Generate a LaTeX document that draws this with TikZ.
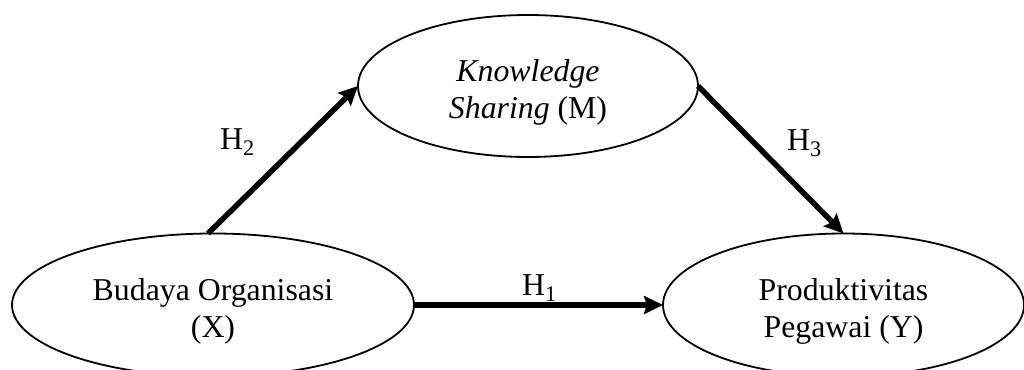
\documentclass[tikz,border=0pt]{standalone}
\usepackage{fontspec}
\setmainfont{Liberation Serif}
\usetikzlibrary{shapes.geometric,arrows.meta}

% invisible strut that lowers two-line node text slightly
\newcommand{\lowerstrut}{\rule{0pt}{35pt}}

\tikzset{
  construct/.style={ellipse, draw, line width=1.8pt, inner sep=0pt, outer sep=0pt,
    align=center, font=\fontsize{31.8}{37.5}\selectfont},
  path arrow/.style={line width=5.5pt, -{Stealth[length=19pt,width=18pt,inset=3pt]}},
  hyp/.style={anchor=base west, inner sep=0pt, font=\fontsize{31.8}{37.5}\selectfont}
}

\begin{document}
\begin{tikzpicture}[x=1pt, y=-1pt]
  \useasboundingbox (0,0) rectangle (1024,369);
  \clip (0,0) rectangle (1024,369);

  % latent constructs
  \node[construct, minimum width=340pt, minimum height=142pt] (M) at (528,86)
    {\lowerstrut\textit{Knowledge}\\\textit{Sharing} (M)};
  \node[construct, minimum width=402pt, minimum height=143pt] (X) at (213,305)
    {\lowerstrut Budaya Organisasi\\(X)};
  \node[construct, minimum width=361pt, minimum height=143pt] (Y) at (843.5,305)
    {\lowerstrut Produktivitas\\Pegawai (Y)};

  % hypothesised paths
  \draw[path arrow] ([xshift=-5pt]X.north) -- (M.west);
  \draw[path arrow] (M.east) -- (Y.north);
  \draw[path arrow] (X.east) -- (Y.west);

  % path labels
  \node[hyp] (h2) at (220,149) {H\textsubscript{2}};
  \node[hyp] (h3) at (787,150) {H\textsubscript{3}};
  \node[hyp] (h1) at (522,295) {H\textsubscript{1}};
\end{tikzpicture}
\end{document}
